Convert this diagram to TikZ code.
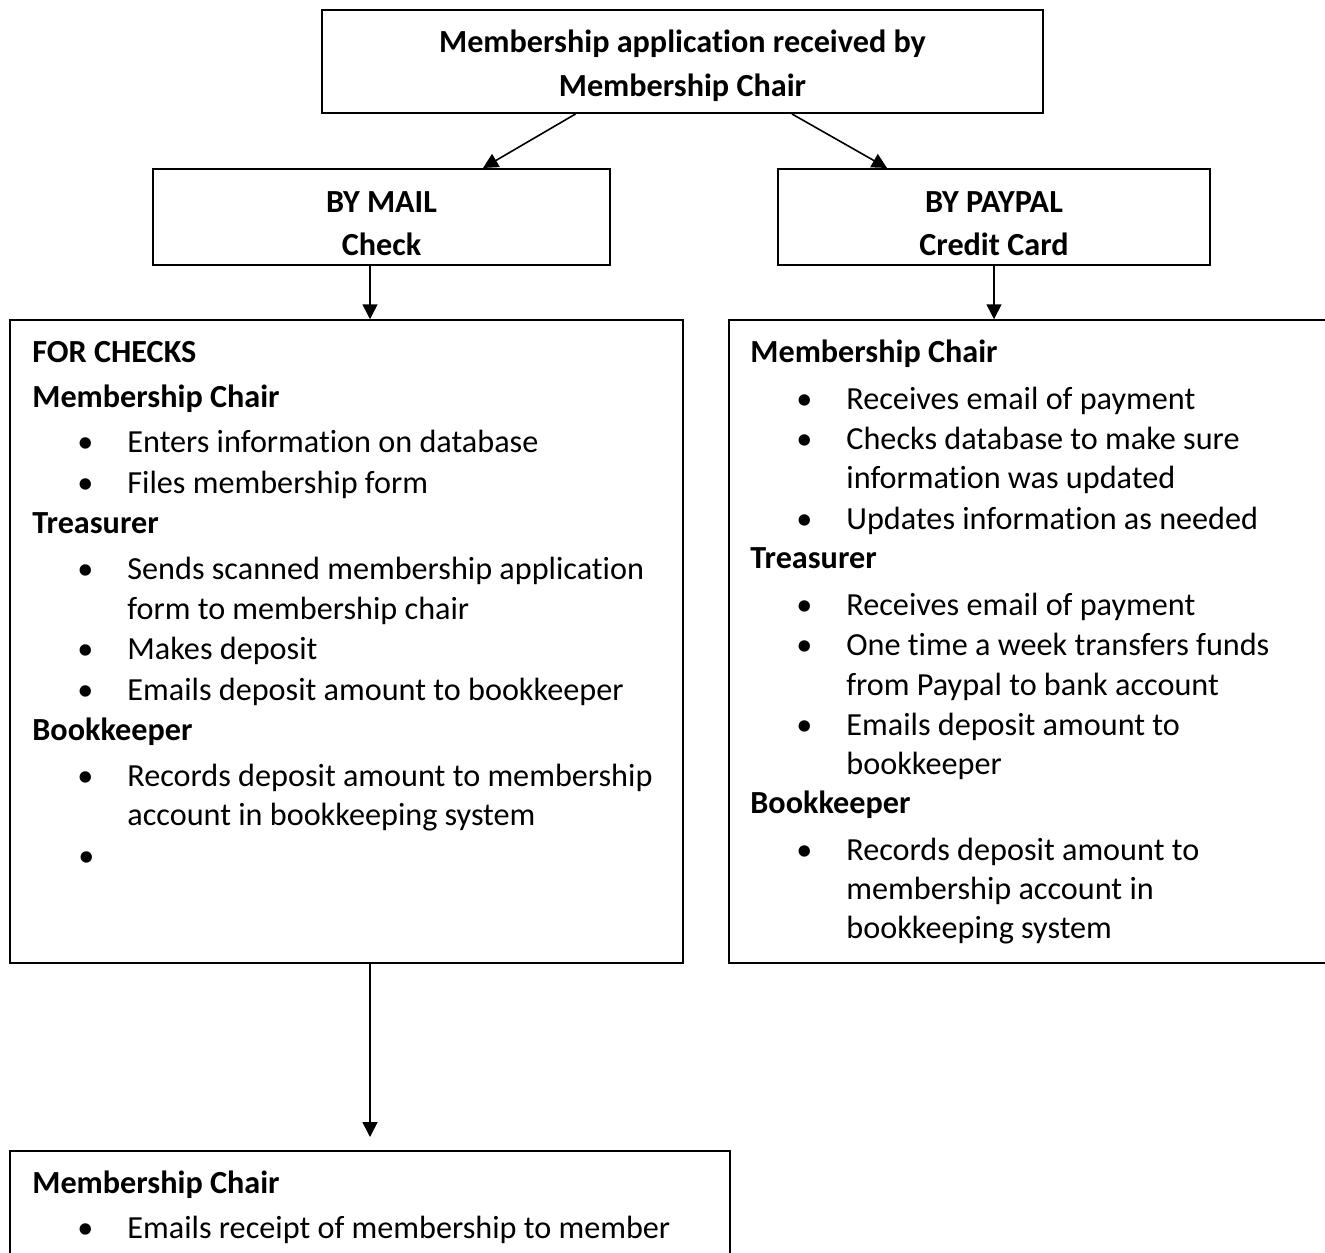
\documentclass[tikz,border=0pt]{standalone}
\usepackage{fontspec}
\setmainfont{Carlito}[Ligatures=NoCommon]
\usetikzlibrary{arrows.meta}
\newcommand{\bl}{\llap{\makebox[42pt]{\textbullet}}}

\begin{document}
\begin{tikzpicture}[x=0.5pt, y=-0.5pt, font=\fontsize{16.1}{19}\selectfont]
\tikzstyle{box} = [draw=black, line width=1pt, rectangle, inner sep=0]
\tikzstyle{arr} = [draw=black, line width=0.8pt, -{Triangle[length=7.5pt,width=7.5pt]}]
\tikzstyle{txt} = [anchor=base west, inner sep=0]
\tikzstyle{hd} = [txt, font=\fontsize{16.1}{19}\selectfont\bfseries]
\tikzstyle{ttl} = [anchor=base, inner sep=0, font=\fontsize{16.1}{19}\selectfont\bfseries]

\clip (0,0) rectangle (1325,1252);

% boxes
\node[box, minimum width=360.5pt, minimum height=51.5pt] (app) at (682.5,61.5) {};
\node[box, minimum width=228.5pt, minimum height=48pt] (mail) at (381.5,217) {};
\node[box, minimum width=216pt, minimum height=48pt] (paypal) at (994,217) {};
\node[box, minimum width=336.5pt, minimum height=321.5pt] (checks) at (346.5,641.75) {};
\node[box, minimum width=303pt, minimum height=321.5pt] (online) at (1032,641.75) {};
\node[box, minimum width=360pt, minimum height=55.5pt] (receipt) at (370,1206.5) {};

% titles
\node[ttl] (app1) at (682.5,53) {Membership application received by};
\node[ttl] (app2) at (682.5,97) {Membership Chair};
\node[ttl] (mail1) at (381.5,212) {BY MAIL};
\node[ttl] (mail2) at (381.5,255) {Check};
\node[ttl] (pay1) at (994,212) {BY PAYPAL};
\node[ttl] (pay2) at (994,255) {Credit Card};

% checks
\node[hd] (c1) at (32,362) {FOR CHECKS};
\node[hd] (c2) at (32,407) {Membership Chair};
\node[txt] (c3) at (127,452) {\bl Enters information on database};
\node[txt] (c4) at (127,493) {\bl Files membership form};
\node[hd] (c5) at (32,533) {Treasurer};
\node[txt] (c6) at (127,579) {\bl Sends scanned membership application};
\node[txt] (c7) at (127,619) {form to membership chair};
\node[txt] (c8) at (127,659) {\bl Makes deposit};
\node[txt] (c9) at (127,700) {\bl Emails deposit amount to bookkeeper};
\node[hd] (c10) at (32,740) {Bookkeeper};
\node[txt] (c11) at (127,786) {\bl Records deposit amount to membership};
\node[txt] (c12) at (127,825) {account in bookkeeping system};
\node[txt] (c13) at (127,866) {\bl};

% paypal
\node[hd] (p1) at (750,362) {Membership Chair};
\node[txt] (p2) at (846,409) {\bl Receives email of payment};
\node[txt] (p3) at (846,449) {\bl Checks database to make sure};
\node[txt] (p4) at (846,488) {information was updated};
\node[txt] (p5) at (846,529) {\bl Updates information as needed};
\node[hd] (p6) at (750,568) {Treasurer};
\node[txt] (p7) at (846,615) {\bl Receives email of payment};
\node[txt] (p8) at (846,655) {\bl One time a week transfers funds};
\node[txt] (p9) at (846,695) {from Paypal to bank account};
\node[txt] (p10) at (846,735) {\bl Emails deposit amount to};
\node[txt] (p11) at (846,774) {bookkeeper};
\node[hd] (p12) at (750,813) {Bookkeeper};
\node[txt] (p13) at (846,860) {\bl Records deposit amount to};
\node[txt] (p14) at (846,899) {membership account in};
\node[txt] (p15) at (846,938) {bookkeeping system};

% receipt
\node[hd] (r1) at (32,1193) {Membership Chair};
\node[txt] (r2) at (127,1238) {\bl Emails receipt of membership to member};

\coordinate (m) at ([xshift=-5.75pt]mail.south);
\coordinate (k) at ([xshift=11.75pt]checks.south);
\coordinate (tip) at (370,1137);

\draw[arr] ([xshift=-53.5pt]app.south) -- ([xshift=50.75pt]mail.north);
\draw[arr] ([xshift=54.75pt]app.south) -- ([xshift=-53.5pt]paypal.north);
\draw[arr] (m) -- (m |- checks.north);
\draw[arr] (paypal.south) -- (paypal.south |- online.north);
\draw[arr] (k) -- (tip);
\end{tikzpicture}
\end{document}
